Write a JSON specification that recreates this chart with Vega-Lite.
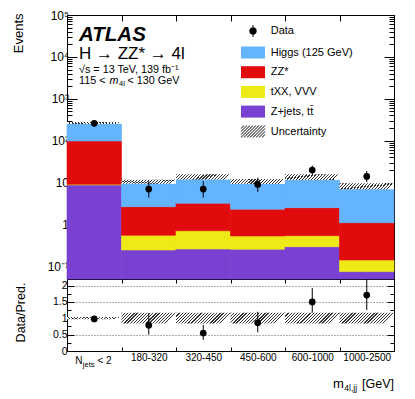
{
  "$schema": "https://vega.github.io/schema/vega-lite/v6.json",
  "width": 327,
  "height": 336,
  "autosize": {"type": "none"},
  "padding": {"left": 67, "top": 15, "right": 21, "bottom": 48},
  "background": "white",
  "config": {
    "view": {"stroke": "black", "strokeWidth": 1},
    "axis": {"zindex": 1, "labelFont": "Liberation Sans", "titleFont": "Liberation Sans", "labelColor": "black", "titleColor": "black", "tickColor": "black", "domainColor": "black", "grid": false, "tickWidth": 1},
    "legend": {"labelFont": "Liberation Sans", "labelFontSize": 11, "labelColor": "black", "labelLimit": 300},
    "text": {"font": "Liberation Sans", "color": "black"}
  },
  "datasets": {
    "mc": [
      {"bin": "N_jets < 2", "process": "Z+jets, tt̄", "value": 8.8},
      {"bin": "N_jets < 2", "process": "tXX, VVV", "value": 0.3},
      {"bin": "N_jets < 2", "process": "ZZ*", "value": 89.3},
      {"bin": "N_jets < 2", "process": "Higgs (125 GeV)", "value": 156.6},
      {"bin": "180-320", "process": "Z+jets, tt̄", "value": 0.246},
      {"bin": "180-320", "process": "tXX, VVV", "value": 0.306},
      {"bin": "180-320", "process": "ZZ*", "value": 2.11},
      {"bin": "180-320", "process": "Higgs (125 GeV)", "value": 6.84},
      {"bin": "320-450", "process": "Z+jets, tt̄", "value": 0.26},
      {"bin": "320-450", "process": "tXX, VVV", "value": 0.45},
      {"bin": "320-450", "process": "ZZ*", "value": 2.5},
      {"bin": "320-450", "process": "Higgs (125 GeV)", "value": 8.8},
      {"bin": "450-600", "process": "Z+jets, tt̄", "value": 0.256},
      {"bin": "450-600", "process": "tXX, VVV", "value": 0.276},
      {"bin": "450-600", "process": "ZZ*", "value": 1.78},
      {"bin": "450-600", "process": "Higgs (125 GeV)", "value": 7.19},
      {"bin": "600-1000", "process": "Z+jets, tt̄", "value": 0.295},
      {"bin": "600-1000", "process": "tXX, VVV", "value": 0.246},
      {"bin": "600-1000", "process": "ZZ*", "value": 1.98},
      {"bin": "600-1000", "process": "Higgs (125 GeV)", "value": 9.38},
      {"bin": "1000-2500", "process": "Z+jets, tt̄", "value": 0.075},
      {"bin": "1000-2500", "process": "tXX, VVV", "value": 0.067},
      {"bin": "1000-2500", "process": "ZZ*", "value": 0.96},
      {"bin": "1000-2500", "process": "Higgs (125 GeV)", "value": 6.21}
    ],
    "unc": [
      {"bin": "N_jets < 2", "lo": 251, "hi": 279, "rlo": 0.97, "rhi": 1.04},
      {"bin": "180-320", "lo": 9.4, "hi": 11.7, "rlo": 0.84, "rhi": 1.17},
      {"bin": "320-450", "lo": 11.9, "hi": 15.8, "rlo": 0.84, "rhi": 1.17},
      {"bin": "450-600", "lo": 9.3, "hi": 12.2, "rlo": 0.84, "rhi": 1.17},
      {"bin": "600-1000", "lo": 11.5, "hi": 15.8, "rlo": 0.84, "rhi": 1.17},
      {"bin": "1000-2500", "lo": 6.9, "hi": 9.6, "rlo": 0.84, "rhi": 1.17}
    ],
    "obs": [
      {"bin": "N_jets < 2", "n": 260, "nlo": 244, "nhi": 276, "r": 0.98, "rlo": 0.93, "rhi": 1.04},
      {"bin": "180-320", "n": 7, "nlo": 4.4, "nhi": 10.8, "r": 0.79, "rlo": 0.5, "rhi": 1.16},
      {"bin": "320-450", "n": 7, "nlo": 4.4, "nhi": 10.8, "r": 0.55, "rlo": 0.34, "rhi": 0.8},
      {"bin": "450-600", "n": 9, "nlo": 6.0, "nhi": 13.1, "r": 0.86, "rlo": 0.57, "rhi": 1.2},
      {"bin": "600-1000", "n": 20, "nlo": 15.6, "nhi": 25.5, "r": 1.5, "rlo": 1.17, "rhi": 1.92},
      {"bin": "1000-2500", "n": 14, "nlo": 10.3, "nhi": 18.8, "r": 1.71, "rlo": 1.25, "rhi": 2.2}
    ]
  },
  "encoding": {
    "x": {"field": "bin", "type": "nominal", "sort": null, "scale": {"domain": ["N_jets < 2", "180-320", "320-450", "450-600", "600-1000", "1000-2500"], "paddingInner": 0, "paddingOuter": 0}, "axis": null}
  },
  "resolve": {"scale": {"y": "independent"}, "axis": {"x": "independent", "y": "independent"}},
  "layer": [
    {
      "resolve": {"axis": {"x": "independent", "y": "independent"}, "scale": {"shape": "independent"}, "legend": {"shape": "independent"}},
      "layer": [
        {
          "data": {"name": "mc"},
          "transform": [{"stack": "value", "groupby": ["bin"], "as": ["y0", "y1"]}],
          "mark": {"type": "bar", "strokeWidth": 0.6},
          "encoding": {
            "x": {"field": "bin", "type": "nominal", "sort": null, "axis": {"orient": "top", "offset": 0, "tickBand": "extent", "labels": false, "domain": false, "tickSize": -6, "title": null}},
            "y": {"field": "y1", "type": "quantitative",
              "scale": {"type": "log", "domain": [0.05, 100000], "range": [264, 0], "clamp": true, "nice": false},
              "axis": {"orient": "left", "values": [0.1, 1, 10, 100, 1000, 10000, 100000],
                "labelExpr": "datum.value < 0.5 ? '10⁻¹' : datum.value < 5 ? '1' : datum.value < 50 ? '10' : datum.value < 500 ? '10²' : datum.value < 5000 ? '10³' : datum.value < 50000 ? '10⁴' : '10⁵'",
                "tickSize": -10, "labelPadding": 8.5, "labelFontSize": 12, "domain": false,
                "title": "Events", "titleFontSize": 13, "titleFontWeight": "normal", "titleAngle": 270, "titleAlign": "right", "titleBaseline": "middle", "titleX": -49, "titleY": -2}},
            "y2": {"field": "y0"},
            "color": {"field": "process", "type": "nominal",
              "scale": {"domain": ["Higgs (125 GeV)", "ZZ*", "tXX, VVV", "Z+jets, tt̄"], "range": ["#64b4ff", "#e20b0b", "#eeea16", "#7841d2"]},
              "legend": {"orient": "none", "legendX": 180, "legendY": 31.5, "title": null, "symbolSize": 144, "symbolType": "M-2,-1L2,-1L2,1L-2,1Z", "labelOffset": 11.7, "rowPadding": 7.7, "padding": 0, "symbolStrokeWidth": 0}
            },
            "stroke": {"field": "process", "type": "nominal", "scale": {"domain": ["Higgs (125 GeV)", "ZZ*", "tXX, VVV", "Z+jets, tt̄"], "range": ["#64b4ff", "#e20b0b", "#eeea16", "#7841d2"]}, "legend": null}
          }
        },
        {
          "data": {"name": "unc"},
          "mark": {"type": "bar", "fill": {"gradient": "linear", "x1": 0, "y1": 0, "x2": 1, "y2": 0.092, "stops": [
            {"offset": 0, "color": "#333"}, {"offset": 0.0222, "color": "#333"}, {"offset": 0.0222, "color": "#fff"}, {"offset": 0.0556, "color": "#fff"},
            {"offset": 0.0556, "color": "#333"}, {"offset": 0.0778, "color": "#333"}, {"offset": 0.0778, "color": "#fff"}, {"offset": 0.1111, "color": "#fff"},
            {"offset": 0.1111, "color": "#333"}, {"offset": 0.1333, "color": "#333"}, {"offset": 0.1333, "color": "#fff"}, {"offset": 0.1667, "color": "#fff"},
            {"offset": 0.1667, "color": "#333"}, {"offset": 0.1889, "color": "#333"}, {"offset": 0.1889, "color": "#fff"}, {"offset": 0.2222, "color": "#fff"},
            {"offset": 0.2222, "color": "#333"}, {"offset": 0.2444, "color": "#333"}, {"offset": 0.2444, "color": "#fff"}, {"offset": 0.2778, "color": "#fff"},
            {"offset": 0.2778, "color": "#333"}, {"offset": 0.3, "color": "#333"}, {"offset": 0.3, "color": "#fff"}, {"offset": 0.3333, "color": "#fff"},
            {"offset": 0.3333, "color": "#333"}, {"offset": 0.3555, "color": "#333"}, {"offset": 0.3555, "color": "#fff"}, {"offset": 0.3889, "color": "#fff"},
            {"offset": 0.3889, "color": "#333"}, {"offset": 0.4111, "color": "#333"}, {"offset": 0.4111, "color": "#fff"}, {"offset": 0.4444, "color": "#fff"},
            {"offset": 0.4444, "color": "#333"}, {"offset": 0.4666, "color": "#333"}, {"offset": 0.4666, "color": "#fff"}, {"offset": 0.5, "color": "#fff"},
            {"offset": 0.5, "color": "#333"}, {"offset": 0.5222, "color": "#333"}, {"offset": 0.5222, "color": "#fff"}, {"offset": 0.5556, "color": "#fff"},
            {"offset": 0.5556, "color": "#333"}, {"offset": 0.5778, "color": "#333"}, {"offset": 0.5778, "color": "#fff"}, {"offset": 0.6111, "color": "#fff"},
            {"offset": 0.6111, "color": "#333"}, {"offset": 0.6333, "color": "#333"}, {"offset": 0.6333, "color": "#fff"}, {"offset": 0.6667, "color": "#fff"},
            {"offset": 0.6667, "color": "#333"}, {"offset": 0.6889, "color": "#333"}, {"offset": 0.6889, "color": "#fff"}, {"offset": 0.7222, "color": "#fff"},
            {"offset": 0.7222, "color": "#333"}, {"offset": 0.7444, "color": "#333"}, {"offset": 0.7444, "color": "#fff"}, {"offset": 0.7778, "color": "#fff"},
            {"offset": 0.7778, "color": "#333"}, {"offset": 0.8, "color": "#333"}, {"offset": 0.8, "color": "#fff"}, {"offset": 0.8333, "color": "#fff"},
            {"offset": 0.8333, "color": "#333"}, {"offset": 0.8555, "color": "#333"}, {"offset": 0.8555, "color": "#fff"}, {"offset": 0.8889, "color": "#fff"},
            {"offset": 0.8889, "color": "#333"}, {"offset": 0.9111, "color": "#333"}, {"offset": 0.9111, "color": "#fff"}, {"offset": 0.9444, "color": "#fff"},
            {"offset": 0.9444, "color": "#333"}, {"offset": 0.9666, "color": "#333"}, {"offset": 0.9666, "color": "#fff"}, {"offset": 1, "color": "#fff"}
          ]}},
          "encoding": {
            "x": {"field": "bin", "type": "nominal", "sort": null, "axis": {"orient": "bottom", "offset": -72, "tickBand": "extent", "labels": false, "domain": true, "domainColor": "black", "tickSize": -6, "title": null}},
            "y": {"field": "hi", "type": "quantitative", "axis": {"orient": "left", "values": [0.06, 0.07, 0.08, 0.09, 0.2, 0.3, 0.4, 0.5, 0.6, 0.7, 0.8, 0.9, 2, 3, 4, 5, 6, 7, 8, 9, 20, 30, 40, 50, 60, 70, 80, 90, 200, 300, 400, 500, 600, 700, 800, 900, 2000, 3000, 4000, 5000, 6000, 7000, 8000, 9000, 20000, 30000, 40000, 50000, 60000, 70000, 80000, 90000], "labels": false, "domain": false, "tickSize": -5, "title": null}},
            "y2": {"field": "lo"}
          }
        },
        {
          "data": {"name": "obs"},
          "mark": {"type": "rule", "color": "black", "strokeWidth": 1},
          "encoding": {
            "y": {"field": "nlo", "type": "quantitative", "axis": {"orient": "right", "values": [0.1, 1, 10, 100, 1000, 10000, 100000], "labels": false, "domain": false, "tickSize": -10, "title": null}},
            "y2": {"field": "nhi"}
          }
        },
        {
          "data": {"name": "obs"},
          "mark": {"type": "point", "shape": "circle", "filled": true, "color": "black", "size": 45, "opacity": 1},
          "encoding": {
            "y": {"field": "n", "type": "quantitative", "axis": {"orient": "right", "values": [0.06, 0.07, 0.08, 0.09, 0.2, 0.3, 0.4, 0.5, 0.6, 0.7, 0.8, 0.9, 2, 3, 4, 5, 6, 7, 8, 9, 20, 30, 40, 50, 60, 70, 80, 90, 200, 300, 400, 500, 600, 700, 800, 900, 2000, 3000, 4000, 5000, 6000, 7000, 8000, 9000, 20000, 30000, 40000, 50000, 60000, 70000, 80000, 90000], "labels": false, "domain": false, "tickSize": -5, "title": null}}
          }
        },
        {
          "data": {"values": [{}]},
          "mark": {"type": "point", "filled": true, "color": "black", "opacity": 0},
          "encoding": {
            "x": {"datum": "N_jets < 2", "type": "nominal", "axis": null},
            "y": {"datum": 1, "type": "quantitative", "axis": null},
            "shape": {"datum": "Data", "type": "nominal",
              "scale": {"domain": ["Data"], "range": ["M-0.08,-1L0.08,-1L0.08,1L-0.08,1ZM-0.62,0A0.62,0.62,0,1,1,0.62,0A0.62,0.62,0,1,1,-0.62,0Z"]},
              "legend": {"orient": "none", "legendX": 180, "legendY": 10, "title": null, "symbolSize": 144, "labelOffset": 11.7, "padding": 0, "symbolFillColor": "black", "symbolStrokeWidth": 0, "symbolOpacity": 1}}
          }
        },
        {
          "data": {"values": [{}]},
          "mark": {"type": "point", "filled": true, "color": "#222222", "opacity": 0},
          "encoding": {
            "x": {"datum": "N_jets < 2", "type": "nominal", "axis": null},
            "y": {"datum": 1, "type": "quantitative", "axis": null},
            "shape": {"datum": "Uncertainty", "type": "nominal",
              "scale": {"domain": ["Uncertainty"], "range": ["M-2.09,-0.5L-1.91,-0.5L-1.41,-1L-1.59,-1ZM-2.09,0L-1.91,0L-0.91,-1L-1.09,-1ZM-2.09,0.5L-1.91,0.5L-0.41,-1L-0.59,-1ZM-2.09,1L-1.91,1L0.09,-1L-0.09,-1ZM-1.59,1L-1.41,1L0.59,-1L0.41,-1ZM-1.09,1L-0.91,1L1.09,-1L0.91,-1ZM-0.59,1L-0.41,1L1.59,-1L1.41,-1ZM-0.09,1L0.09,1L2.09,-1L1.91,-1ZM0.41,1L0.59,1L2.09,-0.5L1.91,-0.5ZM0.91,1L1.09,1L2.09,0L1.91,0ZM1.41,1L1.59,1L2.09,0.5L1.91,0.5Z"]},
              "legend": {"orient": "none", "legendX": 180, "legendY": 110.5, "title": null, "symbolSize": 144, "labelOffset": 11.7, "padding": 0, "symbolFillColor": "#222222", "symbolStrokeWidth": 0, "symbolOpacity": 1}}
          }
        },
        {
          "data": {"values": [{}]},
          "mark": {"type": "text", "text": "ATLAS", "fontSize": 20.5, "fontWeight": "bold", "fontStyle": "italic", "align": "left", "baseline": "alphabetic", "dx": 12},
          "encoding": {"x": {"datum": "N_jets < 2", "type": "nominal", "bandPosition": 0, "axis": null}, "y": {"datum": 24400, "type": "quantitative", "axis": null}}
        },
        {
          "data": {"values": [{}]},
          "mark": {"type": "text", "text": "H → ZZ* → 4l", "fontSize": 17, "align": "left", "baseline": "alphabetic", "dx": 12},
          "encoding": {"x": {"datum": "N_jets < 2", "type": "nominal", "bandPosition": 0, "axis": null}, "y": {"datum": 8770, "type": "quantitative", "axis": null}}
        },
        {
          "data": {"values": [{}]},
          "mark": {"type": "text", "text": "√s = 13 TeV, 139 fb⁻¹", "fontSize": 10.8, "align": "left", "baseline": "alphabetic", "dx": 12},
          "encoding": {"x": {"datum": "N_jets < 2", "type": "nominal", "bandPosition": 0, "axis": null}, "y": {"datum": 4100, "type": "quantitative", "axis": null}}
        },
        {
          "data": {"values": [{}]},
          "mark": {"type": "text", "text": "115 <", "fontSize": 10.8, "align": "left", "baseline": "alphabetic", "dx": 12},
          "encoding": {"x": {"datum": "N_jets < 2", "type": "nominal", "bandPosition": 0, "axis": null}, "y": {"datum": 2260, "type": "quantitative", "axis": null}}
        },
        {
          "data": {"values": [{}]},
          "mark": {"type": "text", "text": "m", "fontSize": 10.8, "fontStyle": "italic", "align": "left", "baseline": "alphabetic", "dx": 42.5},
          "encoding": {"x": {"datum": "N_jets < 2", "type": "nominal", "bandPosition": 0, "axis": null}, "y": {"datum": 2260, "type": "quantitative", "axis": null}}
        },
        {
          "data": {"values": [{}]},
          "mark": {"type": "text", "text": "4l", "fontSize": 7.5, "align": "left", "baseline": "alphabetic", "dx": 52, "dy": 2.5},
          "encoding": {"x": {"datum": "N_jets < 2", "type": "nominal", "bandPosition": 0, "axis": null}, "y": {"datum": 2260, "type": "quantitative", "axis": null}}
        },
        {
          "data": {"values": [{}]},
          "mark": {"type": "text", "text": "< 130 GeV", "fontSize": 10.8, "align": "left", "baseline": "alphabetic", "dx": 60.5},
          "encoding": {"x": {"datum": "N_jets < 2", "type": "nominal", "bandPosition": 0, "axis": null}, "y": {"datum": 2260, "type": "quantitative", "axis": null}}
        }
      ]
    },
    {
      "resolve": {"axis": {"x": "independent", "y": "independent"}},
      "layer": [
        {
          "data": {"name": "unc"},
          "mark": {"type": "bar", "fill": {"gradient": "linear", "x1": 0, "y1": 0, "x2": 1, "y2": 0.198, "stops": [
            {"offset": 0, "color": "#333"}, {"offset": 0.0222, "color": "#333"}, {"offset": 0.0222, "color": "#fff"}, {"offset": 0.0556, "color": "#fff"},
            {"offset": 0.0556, "color": "#333"}, {"offset": 0.0778, "color": "#333"}, {"offset": 0.0778, "color": "#fff"}, {"offset": 0.1111, "color": "#fff"},
            {"offset": 0.1111, "color": "#333"}, {"offset": 0.1333, "color": "#333"}, {"offset": 0.1333, "color": "#fff"}, {"offset": 0.1667, "color": "#fff"},
            {"offset": 0.1667, "color": "#333"}, {"offset": 0.1889, "color": "#333"}, {"offset": 0.1889, "color": "#fff"}, {"offset": 0.2222, "color": "#fff"},
            {"offset": 0.2222, "color": "#333"}, {"offset": 0.2444, "color": "#333"}, {"offset": 0.2444, "color": "#fff"}, {"offset": 0.2778, "color": "#fff"},
            {"offset": 0.2778, "color": "#333"}, {"offset": 0.3, "color": "#333"}, {"offset": 0.3, "color": "#fff"}, {"offset": 0.3333, "color": "#fff"},
            {"offset": 0.3333, "color": "#333"}, {"offset": 0.3555, "color": "#333"}, {"offset": 0.3555, "color": "#fff"}, {"offset": 0.3889, "color": "#fff"},
            {"offset": 0.3889, "color": "#333"}, {"offset": 0.4111, "color": "#333"}, {"offset": 0.4111, "color": "#fff"}, {"offset": 0.4444, "color": "#fff"},
            {"offset": 0.4444, "color": "#333"}, {"offset": 0.4666, "color": "#333"}, {"offset": 0.4666, "color": "#fff"}, {"offset": 0.5, "color": "#fff"},
            {"offset": 0.5, "color": "#333"}, {"offset": 0.5222, "color": "#333"}, {"offset": 0.5222, "color": "#fff"}, {"offset": 0.5556, "color": "#fff"},
            {"offset": 0.5556, "color": "#333"}, {"offset": 0.5778, "color": "#333"}, {"offset": 0.5778, "color": "#fff"}, {"offset": 0.6111, "color": "#fff"},
            {"offset": 0.6111, "color": "#333"}, {"offset": 0.6333, "color": "#333"}, {"offset": 0.6333, "color": "#fff"}, {"offset": 0.6667, "color": "#fff"},
            {"offset": 0.6667, "color": "#333"}, {"offset": 0.6889, "color": "#333"}, {"offset": 0.6889, "color": "#fff"}, {"offset": 0.7222, "color": "#fff"},
            {"offset": 0.7222, "color": "#333"}, {"offset": 0.7444, "color": "#333"}, {"offset": 0.7444, "color": "#fff"}, {"offset": 0.7778, "color": "#fff"},
            {"offset": 0.7778, "color": "#333"}, {"offset": 0.8, "color": "#333"}, {"offset": 0.8, "color": "#fff"}, {"offset": 0.8333, "color": "#fff"},
            {"offset": 0.8333, "color": "#333"}, {"offset": 0.8555, "color": "#333"}, {"offset": 0.8555, "color": "#fff"}, {"offset": 0.8889, "color": "#fff"},
            {"offset": 0.8889, "color": "#333"}, {"offset": 0.9111, "color": "#333"}, {"offset": 0.9111, "color": "#fff"}, {"offset": 0.9444, "color": "#fff"},
            {"offset": 0.9444, "color": "#333"}, {"offset": 0.9666, "color": "#333"}, {"offset": 0.9666, "color": "#fff"}, {"offset": 1, "color": "#fff"}
          ]}},
          "encoding": {
            "x": {"field": "bin", "type": "nominal", "sort": null, "axis": {"orient": "bottom", "offset": 0, "tickBand": "extent", "labels": true, "labelExpr": "datum.value === 'N_jets < 2' ? '' : datum.label", "labelFontSize": 10, "labelPadding": 5, "labelBaseline": "top", "labelAngle": 0, "domain": false, "tickSize": -4, "title": null}},
            "y": {"field": "rhi", "type": "quantitative",
              "scale": {"type": "linear", "domain": [0, 2.2], "range": [336, 264], "nice": false, "zero": false},
              "axis": {"orient": "left", "values": [0, 0.5, 1, 1.5, 2], "format": "~g", "labelFontSize": 10.5, "labelPadding": 7, "tickSize": -7, "domain": false,
                "grid": true, "gridDash": [1, 2], "gridColor": "black", "gridOpacity": 0.8, "gridWidth": 0.8,
                "title": "Data/Pred.", "titleFontSize": 12.5, "titleFontWeight": "normal", "titleAngle": 270, "titleAlign": "center", "titleBaseline": "middle", "titleX": -47, "titleY": 297}},
            "y2": {"field": "rlo"}
          }
        },
        {
          "data": {"name": "obs"},
          "mark": {"type": "rule", "color": "black", "strokeWidth": 1},
          "encoding": {
            "x": {"field": "bin", "type": "nominal", "sort": null, "axis": {"orient": "top", "offset": -264, "tickBand": "extent", "labels": false, "domain": false, "tickSize": -4, "title": null}},
            "y": {"field": "rlo", "type": "quantitative", "axis": {"orient": "left", "values": [0.25, 0.75, 1.25, 1.75], "labels": false, "domain": false, "tickSize": -4, "title": null}},
            "y2": {"field": "rhi"}
          }
        },
        {
          "data": {"name": "obs"},
          "mark": {"type": "point", "shape": "circle", "filled": true, "color": "black", "size": 45, "opacity": 1},
          "encoding": {
            "y": {"field": "r", "type": "quantitative", "axis": {"orient": "right", "values": [0, 0.5, 1, 1.5, 2], "labels": false, "domain": false, "tickSize": -7, "title": null}}
          }
        },
        {
          "data": {"values": [{}]},
          "mark": {"type": "text", "text": "N", "fontSize": 10, "align": "left", "baseline": "alphabetic", "dx": 8.3, "dy": 13.3},
          "encoding": {"x": {"datum": "N_jets < 2", "type": "nominal", "bandPosition": 0, "axis": null},
            "y": {"datum": 0, "type": "quantitative", "axis": {"orient": "right", "values": [0.25, 0.75, 1.25, 1.75], "labels": false, "domain": false, "tickSize": -4, "title": null}}}
        },
        {
          "data": {"values": [{}]},
          "mark": {"type": "text", "text": "jets", "fontSize": 7.5, "align": "left", "baseline": "alphabetic", "dx": 15.8, "dy": 15.8},
          "encoding": {"x": {"datum": "N_jets < 2", "type": "nominal", "bandPosition": 0, "axis": null}, "y": {"datum": 0, "type": "quantitative", "axis": null}}
        },
        {
          "data": {"values": [{}]},
          "mark": {"type": "text", "text": "< 2", "fontSize": 10, "align": "left", "baseline": "alphabetic", "dx": 30.5, "dy": 13.3},
          "encoding": {"x": {"datum": "N_jets < 2", "type": "nominal", "bandPosition": 0, "axis": null}, "y": {"datum": 0, "type": "quantitative", "axis": null}}
        },
        {
          "data": {"values": [{}]},
          "mark": {"type": "text", "text": "m", "fontSize": 13, "align": "left", "baseline": "alphabetic", "dx": -6.5, "dy": 37},
          "encoding": {"x": {"datum": "1000-2500", "type": "nominal", "bandPosition": 0, "axis": null}, "y": {"datum": 0, "type": "quantitative", "axis": null}}
        },
        {
          "data": {"values": [{}]},
          "mark": {"type": "text", "text": "4l,jj", "fontSize": 8.5, "align": "left", "baseline": "alphabetic", "dx": 4.8, "dy": 40},
          "encoding": {"x": {"datum": "1000-2500", "type": "nominal", "bandPosition": 0, "axis": null}, "y": {"datum": 0, "type": "quantitative", "axis": null}}
        },
        {
          "data": {"values": [{}]},
          "mark": {"type": "text", "text": "[GeV]", "fontSize": 12.5, "align": "left", "baseline": "alphabetic", "dx": 22.5, "dy": 37},
          "encoding": {"x": {"datum": "1000-2500", "type": "nominal", "bandPosition": 0, "axis": null}, "y": {"datum": 0, "type": "quantitative", "axis": null}}
        }
      ]
    }
  ]
}
